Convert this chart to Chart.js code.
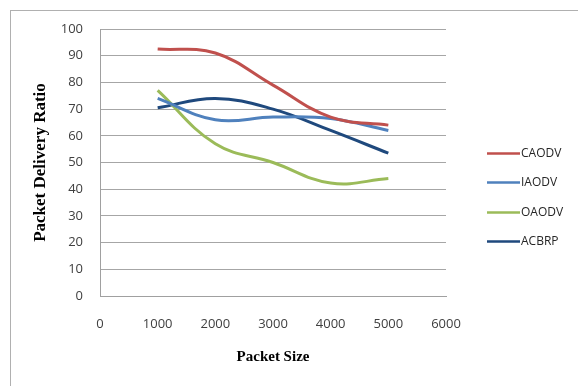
<!DOCTYPE html>
<html>
<head>
<meta charset="utf-8">
<script src="https://cdn.jsdelivr.net/npm/chart.js@4"></script>
<style>
  html, body { margin: 0; padding: 0; background: #ffffff; }
  #wrap { width: 578px; height: 386px; position: relative; }
</style>
</head>
<body>
<div id="wrap"><canvas id="c" width="578" height="386"></canvas></div>
<script>
// Packet sizes tested
const packetSizes = [1000, 2000, 3000, 4000, 5000];

// Packet delivery ratio per protocol
const caodv = [92.5, 91, 79, 67, 64];
const iaodv = [74, 66, 67, 66.5, 62];
const oaodv = [77, 57, 50, 42.3, 44];
const acbrp = [70.5, 74, 70, 62, 53.5];

const seriesNames = ['CAODV', 'IAODV', 'OAODV', 'ACBRP'];
const seriesColors = ['#C0504D', '#4F81BD', '#9BBB59', '#1F497D'];
const seriesValues = [caodv, iaodv, oaodv, acbrp];

// Axis ranges and titles
const xMin = 0, xMax = 6000, xStep = 1000;
const yMin = 0, yMax = 100, yStep = 10;
const xTitle = 'Packet Size';
const yTitle = 'Packet Delivery Ratio';

const datasets = seriesNames.map((name, i) => ({
  label: name,
  data: packetSizes.map((x, j) => ({ x: x, y: seriesValues[i][j] })),
  borderColor: seriesColors[i],
  backgroundColor: seriesColors[i],
  borderWidth: 3,
  pointRadius: 0,
  tension: 0.4,
  fill: false
}));

// Outer frame around the whole chart
const framePlugin = {
  id: 'frame',
  beforeDraw(chart) {
    const ctx = chart.ctx;
    ctx.save();
    ctx.fillStyle = '#ffffff';
    ctx.fillRect(0, 0, chart.width, chart.height);
    ctx.strokeStyle = '#b0b0b0';
    ctx.lineWidth = 1;
    ctx.strokeRect(10.5, 10.5, 700, 500);
    ctx.restore();
  }
};

// Line-sample legend on the right
const legendPlugin = {
  id: 'lineLegend',
  afterDraw(chart) {
    const ctx = chart.ctx;
    const x0 = chart.chartArea.right + 41;
    const y0 = 153;
    const gap = 29.3;
    ctx.save();
    ctx.font = '12px "Open Sans", sans-serif';
    ctx.textBaseline = 'middle';
    ctx.textAlign = 'left';
    chart.data.datasets.forEach((ds, i) => {
      const y = Math.round(y0 + i * gap) + 0.5;
      ctx.strokeStyle = ds.borderColor;
      ctx.lineWidth = 2.5;
      ctx.beginPath();
      ctx.moveTo(x0, y);
      ctx.lineTo(x0 + 33, y);
      ctx.stroke();
      ctx.fillStyle = '#262626';
      ctx.fillText(ds.label, x0 + 34, y + 0.5);
    });
    ctx.restore();
  }
};

new Chart(document.getElementById('c'), {
  type: 'line',
  data: { datasets: datasets },
  plugins: [framePlugin, legendPlugin],
  options: {
    responsive: false,
    animation: false,
    layout: { padding: { left: 0, right: 132, top: 29, bottom: 0 } },
    plugins: {
      legend: { display: false },
      tooltip: { enabled: false }
    },
    scales: {
      x: {
        type: 'linear',
        min: xMin, max: xMax,
        ticks: {
          stepSize: xStep,
          padding: 20,
          color: '#404040',
          font: { family: '"Open Sans", sans-serif', size: 13 },
          maxRotation: 0,
          callback: (v) => String(v)
        },
        grid: { display: false, drawTicks: false },
        border: { display: true, color: '#a0a0a0', width: 1 },
        title: {
          display: true,
          text: xTitle,
          color: '#000000',
          font: { family: '"Liberation Serif", serif', size: 15, weight: 'bold' },
          padding: { top: 0, bottom: 20 }
        },
        afterFit(scale) { scale.height = 90; }
      },
      y: {
        min: yMin, max: yMax,
        ticks: {
          stepSize: yStep,
          padding: 17,
          color: '#404040',
          font: { family: '"Open Sans", sans-serif', size: 13 }
        },
        grid: { color: '#a6a6a6', lineWidth: 1, drawTicks: false },
        border: { display: true, color: '#a0a0a0', width: 1 },
        title: {
          display: true,
          text: yTitle,
          color: '#000000',
          font: { family: '"Liberation Serif", serif', size: 17, weight: 'bold' },
          padding: { top: 30, bottom: 0 }
        },
        afterFit(scale) { scale.width = 100; }
      }
    }
  }
});
</script>
</body>
</html>
